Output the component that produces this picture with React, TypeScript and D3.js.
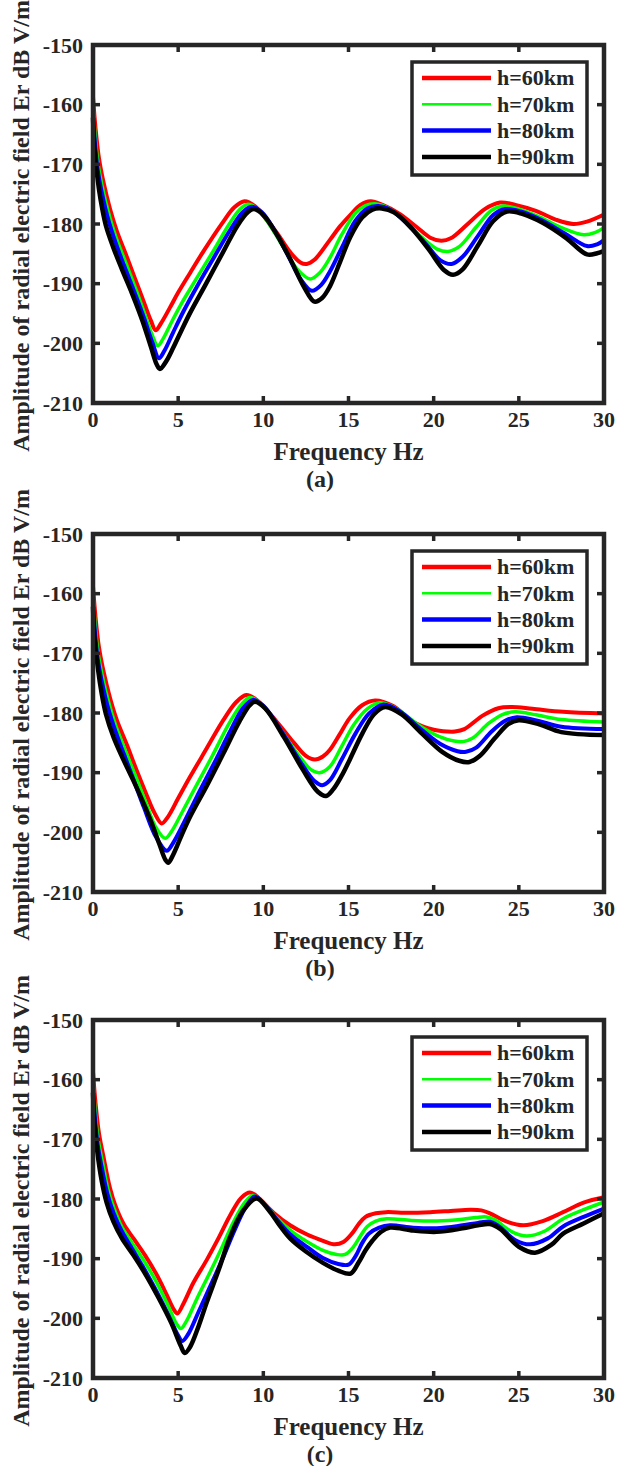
import React from 'react';
import * as d3 from 'd3';

type Pt = [number, number];

const xTicks = [0, 5, 10, 15, 20, 25, 30];
const yTicks = [-150, -160, -170, -180, -190, -200, -210];
const seriesNames = ['h=60km', 'h=70km', 'h=80km', 'h=90km'];
const seriesColors = ['#ff0000', '#00ff00', '#0000ff', '#000000'];
const panelLabels = ['(a)', '(b)', '(c)'];

// panel (a)
const a60: Pt[] = [[0, -158.7], [0.15, -164], [0.35, -169], [0.6, -172.8], [1.0, -177.5], [1.4, -181.2], [2.0, -185.6], [2.5, -189.4], [3.0, -193.2], [3.4, -196.2], [3.68, -197.8], [4.0, -196.6], [4.5, -194.1], [5.0, -191.5], [5.7, -188.2], [6.5, -184.5], [7.6, -179.8], [8.3, -177.2], [8.9, -176.2], [9.5, -177], [10.2, -179.3], [10.8, -181.5], [11.6, -184.8], [12.2, -186.5], [12.55, -186.7], [13.0, -186], [13.9, -182.7], [14.5, -180.4], [15.1, -178.5], [15.7, -176.8], [16.3, -176.2], [17.0, -176.8], [18.0, -178.3], [19.0, -180.5], [19.8, -182.3], [20.45, -182.8], [21.0, -182.4], [22.0, -180], [23.0, -177.5], [23.9, -176.4], [24.8, -176.8], [26.0, -177.8], [27.2, -179.3], [28.2, -180], [29.0, -179.6], [30, -178.4]];
const a70: Pt[] = [[0, -160.2], [0.12, -165], [0.3, -170], [0.55, -173.8], [0.9, -178], [1.3, -181.8], [1.9, -186.3], [2.5, -190.8], [3.0, -194.8], [3.5, -198.8], [3.8, -200.4], [4.1, -199.3], [4.6, -196.5], [5.2, -193.3], [6.0, -189.5], [7.0, -184.8], [8.0, -180], [8.6, -177.6], [9.1, -176.7], [9.7, -177.6], [10.4, -180.3], [11.2, -184], [12.0, -187.6], [12.75, -189.2], [13.3, -188.2], [13.9, -185.7], [14.6, -181.8], [15.4, -178.2], [16.0, -176.9], [16.56, -176.6], [17.3, -177.3], [18.3, -179.5], [19.3, -182.2], [20.2, -184.2], [20.85, -184.6], [21.5, -183.8], [22.5, -180.5], [23.4, -177.7], [24.1, -177], [25.0, -177.5], [26.2, -178.8], [27.5, -180.6], [28.8, -181.8], [29.5, -181.4], [30, -180.6]];
const a80: Pt[] = [[0, -161.2], [0.1, -166], [0.28, -171], [0.5, -174.5], [0.85, -178.8], [1.25, -182.5], [1.8, -186.8], [2.4, -191.2], [3.0, -195.8], [3.5, -200], [3.87, -202.5], [4.2, -201.2], [4.7, -198.2], [5.3, -194.7], [6.1, -190.5], [7.1, -185.6], [8.1, -180.8], [8.8, -178], [9.3, -177.1], [9.9, -178], [10.6, -180.8], [11.4, -185], [12.2, -189.3], [12.85, -191.2], [13.4, -190.2], [13.9, -188], [14.6, -184], [15.4, -179.5], [16.1, -177.4], [16.75, -177], [17.5, -177.7], [18.5, -180.1], [19.5, -183.2], [20.4, -186.1], [21.06, -186.7], [21.7, -185.5], [22.6, -182], [23.5, -178.5], [24.2, -177.5], [25.1, -177.9], [26.3, -179.3], [27.7, -181.6], [29.0, -183.7], [29.6, -183.4], [30, -182.7]];
const a90: Pt[] = [[0, -162.2], [0.08, -167], [0.25, -172], [0.45, -176], [0.75, -180.2], [1.2, -184], [1.7, -187.6], [2.3, -191.7], [2.9, -196.2], [3.4, -200.6], [3.75, -203.6], [3.93, -204.3], [4.3, -203], [4.7, -200.8], [5.2, -197.8], [5.7, -194.9], [6.6, -190.2], [7.6, -184.9], [8.5, -180.2], [9.1, -178], [9.45, -177.5], [10.0, -178.5], [10.8, -181.8], [11.6, -186], [12.4, -190.6], [13.0, -193], [13.45, -192.4], [13.9, -190.5], [14.5, -186.4], [15.1, -182.2], [15.8, -178.9], [16.4, -177.6], [16.95, -177.4], [17.7, -178.1], [18.7, -180.7], [19.7, -184.2], [20.6, -187.7], [21.14, -188.5], [21.7, -187.6], [22.6, -183.6], [23.5, -179.5], [24.3, -177.9], [25.2, -178.3], [26.4, -179.8], [27.8, -182.4], [29.0, -185.1], [29.6, -184.9], [30, -184.5]];

// panel (b)
const b60: Pt[] = [[0, -158.8], [0.15, -164], [0.35, -169], [0.6, -172.8], [1.0, -177.5], [1.4, -181.2], [2.0, -185.4], [2.56, -189.6], [3.1, -193.4], [3.6, -196.7], [4.03, -198.5], [4.4, -197.4], [5.0, -194.3], [5.7, -190.7], [6.6, -186.3], [7.65, -181.2], [8.4, -178.2], [9.0, -177], [9.6, -177.8], [10.8, -181.5], [11.8, -185], [12.5, -187.2], [13.03, -187.8], [13.5, -187.3], [13.9, -186.2], [14.5, -183.5], [15.06, -180.9], [15.8, -178.7], [16.56, -177.9], [17.6, -178.8], [18.8, -181.5], [20.0, -182.8], [20.8, -183.1], [21.25, -183.1], [21.8, -182.7], [22.9, -180.4], [23.8, -179.2], [24.6, -179], [25.8, -179.3], [27.6, -179.8], [30, -180.1]];
const b70: Pt[] = [[0, -160.2], [0.12, -165], [0.3, -170], [0.55, -173.8], [0.9, -178], [1.3, -181.8], [1.9, -186.3], [2.5, -190.6], [3.1, -195], [3.7, -199.2], [4.23, -201], [4.6, -199.9], [5.2, -196.8], [6.0, -192.5], [7.0, -187.2], [8.0, -181.7], [8.7, -178.6], [9.19, -177.4], [9.8, -178.3], [10.9, -182.3], [12.0, -186.8], [12.8, -189.5], [13.29, -190], [13.9, -189], [14.6, -185.6], [15.3, -182], [16.1, -179.3], [16.85, -178.3], [17.9, -179.4], [19.1, -182], [20.3, -183.9], [21.2, -184.7], [21.73, -184.8], [22.3, -184.2], [23.2, -181.8], [24.0, -180.3], [24.78, -179.8], [26.0, -180.3], [27.5, -181.1], [30, -181.5]];
const b80: Pt[] = [[0, -161.2], [0.1, -166], [0.28, -171], [0.5, -174.5], [0.85, -178.8], [1.25, -182.5], [1.8, -186.8], [2.4, -191.3], [3.0, -195.9], [3.7, -200.8], [4.33, -203.1], [4.7, -201.8], [5.3, -198.6], [6.1, -194], [7.1, -188.5], [8.1, -182.8], [8.8, -179.2], [9.38, -177.8], [10.0, -178.8], [11.1, -183.2], [12.2, -188.3], [13.0, -191.4], [13.46, -192.1], [13.9, -191.3], [14.6, -187.8], [15.4, -183.5], [16.2, -180.1], [17.03, -178.6], [18.0, -179.7], [19.2, -182.6], [20.4, -185.2], [21.4, -186.4], [21.9, -186.5], [22.5, -185.8], [23.4, -183.1], [24.2, -181.3], [24.88, -180.7], [26.1, -181.3], [27.5, -182.3], [30, -182.7]];
const b90: Pt[] = [[0, -162.2], [0.08, -167], [0.3, -172.8], [0.5, -176.6], [0.76, -180.2], [1.2, -184], [1.7, -187.3], [2.2, -190.3], [2.8, -194], [3.4, -198.1], [3.9, -202], [4.25, -204.6], [4.42, -205.1], [4.7, -203.8], [5.2, -200.5], [5.7, -197.4], [6.7, -192.1], [7.65, -186.8], [8.6, -181.4], [9.2, -178.7], [9.5, -178.1], [10.1, -179.2], [11.2, -184], [12.3, -189.4], [13.2, -193.2], [13.68, -193.9], [14.1, -192.8], [14.6, -190.5], [15.06, -187.9], [15.8, -183.5], [16.5, -180.2], [17.15, -179], [18.1, -180.2], [19.3, -183.4], [20.5, -186.5], [21.5, -188], [22.1, -188.2], [22.7, -187.2], [23.6, -184.2], [24.4, -181.8], [25.0, -181.2], [26.2, -181.9], [27.5, -183.2], [30, -183.7]];

// panel (c)
const c60: Pt[] = [[0, -158.7], [0.15, -164], [0.35, -169], [0.6, -172.7], [1.0, -178.2], [1.3, -181], [1.8, -184.2], [2.4, -186.7], [3.05, -189.4], [3.7, -192.5], [4.3, -195.9], [4.7, -198.3], [4.95, -199.2], [5.3, -197.6], [5.9, -194], [6.68, -190.2], [7.4, -186.4], [8.04, -182.8], [8.7, -179.8], [9.22, -178.9], [9.8, -180], [10.6, -182.3], [11.57, -184.4], [12.6, -186], [13.5, -187], [14.2, -187.6], [14.7, -187.2], [15.2, -185.8], [15.6, -184.2], [16.0, -183], [16.6, -182.4], [17.2, -182.2], [18.5, -182.3], [19.79, -182.2], [21.0, -182], [22.14, -181.8], [22.8, -181.9], [23.3, -182.4], [24.3, -183.8], [25.27, -184.4], [26.4, -183.7], [27.6, -182.2], [28.8, -180.6], [30, -179.7]];
const c70: Pt[] = [[0, -160.2], [0.12, -165], [0.3, -170], [0.55, -173.7], [0.9, -178.6], [1.25, -181.7], [1.7, -184.7], [2.3, -187.4], [3.0, -190.4], [3.7, -193.8], [4.4, -197.8], [4.9, -200.9], [5.16, -201.7], [5.5, -200.4], [6.1, -196.7], [6.9, -192.1], [7.6, -187.9], [8.2, -184.1], [8.9, -180.6], [9.38, -179.4], [10.0, -180.6], [10.8, -183.2], [11.57, -185.2], [12.6, -187.2], [13.5, -188.6], [14.3, -189.3], [14.8, -189.3], [15.3, -188], [15.7, -186.2], [16.1, -184.6], [16.6, -183.7], [17.24, -183.3], [18.7, -183.6], [20.18, -183.7], [21.7, -183.4], [22.5, -183.1], [23.1, -183], [23.6, -183.5], [24.6, -185.5], [25.47, -186.2], [26.5, -185.4], [27.6, -183.3], [28.8, -181.8], [30, -180.5]];
const c80: Pt[] = [[0, -161.2], [0.1, -166], [0.28, -171], [0.5, -174.5], [0.85, -179.2], [1.2, -182.3], [1.65, -185.2], [2.2, -187.9], [2.9, -191.2], [3.6, -194.8], [4.4, -199.3], [5.0, -202.9], [5.25, -203.8], [5.6, -202.6], [6.2, -198.9], [7.0, -193.9], [7.7, -189.4], [8.3, -185.3], [9.0, -181.2], [9.5, -179.6], [10.1, -181], [10.9, -183.8], [11.57, -185.9], [12.6, -188.1], [13.5, -189.9], [14.4, -190.9], [15.0, -191], [15.45, -189.4], [15.8, -187.4], [16.2, -185.8], [16.8, -184.8], [17.44, -184.4], [18.8, -184.8], [20.18, -184.9], [21.7, -184.4], [22.6, -184], [23.3, -183.8], [23.8, -184.5], [24.8, -186.9], [25.66, -187.6], [26.7, -186.6], [27.6, -184.6], [28.8, -183], [30, -181.6]];
const c90: Pt[] = [[0, -162.2], [0.08, -167], [0.25, -172], [0.5, -176.8], [0.8, -180.6], [1.2, -183.8], [1.7, -186.6], [2.37, -189.4], [3.1, -192.7], [3.8, -196.3], [4.6, -200.8], [5.15, -204.6], [5.39, -205.8], [5.7, -204.8], [6.2, -201.3], [6.68, -197.3], [7.4, -191.7], [8.04, -186.4], [8.8, -182], [9.61, -179.9], [10.3, -181.8], [11.0, -184.6], [11.57, -186.6], [12.5, -188.8], [13.5, -190.7], [14.4, -192], [15.12, -192.5], [15.6, -190.6], [16.0, -188.6], [16.4, -187], [16.9, -185.5], [17.44, -184.8], [18.8, -185.3], [20.18, -185.5], [21.7, -184.9], [22.6, -184.4], [23.3, -184.2], [23.9, -185], [25.0, -188], [25.95, -189], [26.9, -187.7], [27.6, -185.8], [28.8, -184.1], [30, -182.4]];

const panelSeries: Pt[][][] = [
  [a60, a70, a80, a90],
  [b60, b70, b80, b90],
  [c60, c70, c80, c90],
];

const panelTops = [45, 534, 1020];
const plotLeft = 93;
const plotRight = 604;
const plotH = 358;
const lineWidths = [4, 3.5, 4, 4.5];
const legendWidths = [4.5, 2.5, 4.5, 4.5];
const axisColor = '#262626';
const font = '"Liberation Serif", "Times New Roman", serif';

function Panel({ top, series, label }: { top: number; series: Pt[][]; label: string }) {
  const x = d3.scaleLinear().domain([0, 30]).range([plotLeft, plotRight]);
  const y = d3.scaleLinear().domain([-210, -150]).range([top + plotH, top]);
  const line = d3.line<Pt>().x(d => x(d[0])).y(d => y(d[1])).curve(d3.curveCatmullRom.alpha(0.5));
  const bottom = top + plotH;
  const tl = 7;
  const legX = 412;
  const legY = top + 17;

  return (
    <g>
      {series.map((s, i) => (
        <path key={i} d={line(s) || ''} fill="none" stroke={seriesColors[i]}
          strokeWidth={lineWidths[i]} strokeLinejoin="round" />
      ))}
      {/* ticks on all four sides */}
      {xTicks.slice(1, -1).map(t => (
        <g key={'x' + t} stroke={axisColor} strokeWidth={3.5}>
          <line x1={x(t)} x2={x(t)} y1={bottom} y2={bottom - tl} />
          <line x1={x(t)} x2={x(t)} y1={top} y2={top + tl} />
        </g>
      ))}
      {yTicks.slice(1, -1).map(t => (
        <g key={'y' + t} stroke={axisColor} strokeWidth={3.5}>
          <line x1={plotLeft} x2={plotLeft + tl} y1={y(t)} y2={y(t)} />
          <line x1={plotRight} x2={plotRight - tl} y1={y(t)} y2={y(t)} />
        </g>
      ))}
      <rect x={plotLeft} y={top} width={plotRight - plotLeft} height={plotH}
        fill="none" stroke={axisColor} strokeWidth={4.5} />
      {xTicks.map(t => (
        <text key={'xl' + t} x={x(t)} y={bottom + 24} textAnchor="middle"
          fontSize={22} fontWeight="bold" fill={axisColor}>{t}</text>
      ))}
      {yTicks.map(t => (
        <text key={'yl' + t} x={83} y={y(t)} dy="0.35em" textAnchor="end"
          fontSize={22} fontWeight="bold" fill={axisColor}>{t}</text>
      ))}
      <text x={(plotLeft + plotRight) / 2} y={bottom + 57} textAnchor="middle"
        fontSize={25} fontWeight="bold" fill={axisColor}>Frequency Hz</text>
      <text x={320} y={bottom + 84} textAnchor="middle"
        fontSize={24} fontWeight="bold" fill={axisColor}>{label}</text>
      <text transform={`translate(29,${(top + bottom) / 2 + 2}) rotate(-90)`} textAnchor="middle"
        fontSize={24} fontWeight="bold" fill={axisColor}>Amplitude of radial electric field Er dB V/m</text>
      {/* legend */}
      <rect x={legX} y={legY} width={175} height={113} fill="#fff" stroke={axisColor} strokeWidth={3.5} />
      {seriesNames.map((n, i) => {
        const ry = top + 33 + i * 26.3;
        return (
          <g key={n}>
            <line x1={422} x2={491} y1={ry} y2={ry} stroke={seriesColors[i]} strokeWidth={legendWidths[i]} />
            <text x={497} y={ry} dy="0.33em" fontSize={22} fontWeight="bold" fill={axisColor}>{n}</text>
          </g>
        );
      })}
    </g>
  );
}

export default function App() {
  return (
    <svg width={617} height={1466} style={{ position: 'absolute', left: 0, top: 0, background: '#fff' }}
      fontFamily={font}>
      {panelTops.map((t, i) => (
        <Panel key={i} top={t} series={panelSeries[i]} label={panelLabels[i]} />
      ))}
    </svg>
  );
}
